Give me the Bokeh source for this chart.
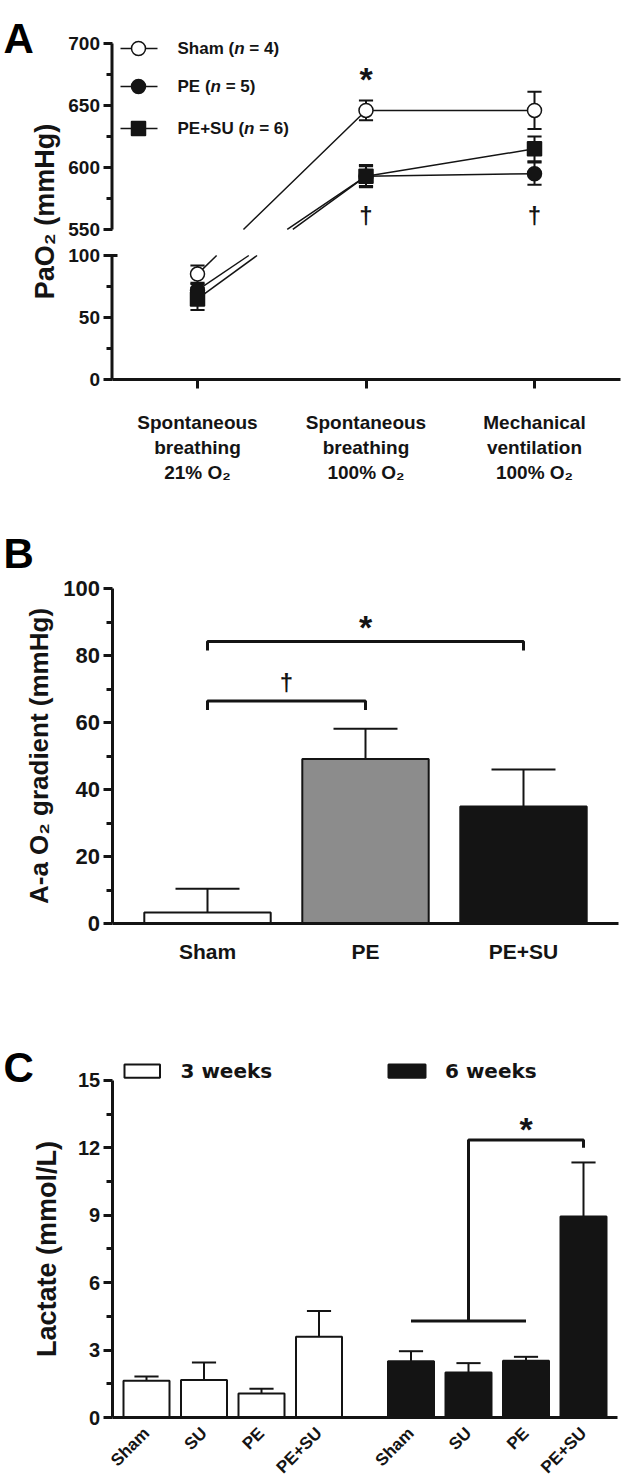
import math
from bokeh.plotting import figure
from bokeh.models import FixedTicker, Range1d
from bokeh.layouts import column
from bokeh.embed import file_html
from bokeh.resources import INLINE
from bokeh.core.properties import value

FONT = "Liberation Sans"
INK = "#141414"

# ---------------- data ----------------
# Panel A : PaO2 (mmHg)
conditions = ["Spontaneous\nbreathing\n21% O\u2082",
              "Spontaneous\nbreathing\n100% O\u2082",
              "Mechanical\nventilation\n100% O\u2082"]
groups_a = ["Sham", "PE", "PE+SU"]
n_a = [4, 5, 6]
sham_pao2 = [85, 646, 646]
sham_err = [7, 8, 15]
pe_pao2 = [72, 593, 595]
pe_err = [5, 8, 9]
pesu_pao2 = [65, 593, 615]
pesu_err = [9, 9, 10]
a_ticks = [0, 50, 100, 550, 600, 650, 700]
a_minor = [25, 75, 575, 625, 675]

# Panel B : A-a O2 gradient (mmHg)
groups_b = ["Sham", "PE", "PE+SU"]
grad_b = [3.3, 49.1, 34.9]
grad_err = [7.1, 9.0, 11.1]
b_ticks = [0, 20, 40, 60, 80, 100]
b_minor = [10, 30, 50, 70, 90]

# Panel C : Lactate (mmol/L)
treat_c = ["Sham", "SU", "PE", "PE+SU"]
weeks_c = ["3 weeks", "6 weeks"]
lact_3w = [1.63, 1.67, 1.07, 3.59]
lact_3w_err = [0.20, 0.78, 0.21, 1.15]
lact_6w = [2.50, 2.00, 2.53, 8.94]
lact_6w_err = [0.45, 0.42, 0.17, 2.41]
c_ticks = [0, 3, 6, 9, 12, 15]
c_minor = [1.5, 4.5, 7.5, 10.5, 13.5]

# --------------- helpers ---------------
W = 622
AW = {' ': 278, '(': 333, ')': 333, '=': 584, '+': 584, 'S': 667, 'h': 611,
      'a': 556, 'm': 889, 'P': 667, 'E': 667, 'U': 722, 'n': 611}


def tw(s, fs):
    return sum(AW.get(c, 556) for c in s) * fs / 1000.0


class Panel:
    """pixel <-> data helper for one panel (page pixels, y downwards)."""

    def __init__(self, top, height, x1_px, ux, y0_px, uy):
        self.top, self.height = top, height
        self.x1_px, self.ux, self.y0_px, self.uy = x1_px, ux, y0_px, uy

    def fx(self, px):
        return 1 + (px - self.x1_px) / self.ux

    def fy(self, py):
        return (self.y0_px - py) / self.uy


def make_fig(P, axis_px, axis_end_px, y_bounds):
    p = figure(width=W, height=P.height, output_backend="svg", toolbar_location=None,
               x_range=Range1d(P.fx(0), P.fx(W)),
               y_range=Range1d(P.fy(P.top + P.height), P.fy(P.top)),
               min_border_left=0, min_border_right=0, min_border_top=0, min_border_bottom=0)
    p.xgrid.visible = False
    p.ygrid.visible = False
    p.outline_line_color = None
    p.background_fill_color = "white"
    p.border_fill_color = "white"
    for ax in p.axis:
        ax.axis_line_width = 3
        ax.axis_line_color = INK
        ax.major_tick_line_width = 3
        ax.major_tick_line_color = INK
        ax.minor_tick_line_width = 3
        ax.minor_tick_line_color = INK
        ax.major_tick_in = 0
        ax.minor_tick_in = 0
        ax.major_tick_out = 9
        ax.minor_tick_out = 6
        ax.major_label_text_font = FONT
        ax.major_label_text_font_style = "bold"
        ax.major_label_text_color = INK
        ax.major_label_standoff = 3
    p.yaxis.fixed_location = P.fx(axis_px)
    p.yaxis.bounds = y_bounds
    p.xaxis.fixed_location = 0
    p.xaxis.bounds = (P.fx(axis_px), P.fx(axis_end_px))
    return p


def no_xticks(p):
    p.xaxis.major_tick_out = 0
    p.xaxis.minor_tick_out = 0
    p.xaxis.major_tick_line_color = None
    p.xaxis.minor_tick_line_color = None


def txt(p, x, y, s, fs, style="bold", font=FONT, align="center", baseline="middle",
        xo=0, yo=0, angle=0.0, color=INK):
    p.text(x=x, y=y, text=s, text_font=value(font), text_font_size=f"{fs}px",
           text_font_style=style, text_color=color, text_align=align,
           text_baseline=baseline, x_offset=xo, y_offset=yo, angle=angle)


def panel_letter(p, P, s, px, baseline_py):
    txt(p, [P.fx(px)], [P.fy(baseline_py)], [s], 42, align="left", baseline="alphabetic",
        color="black")


def y_title(p, P, s, fs, baseline_px, y_mid):
    txt(p, [P.fx(baseline_px)], [y_mid], [s], fs, baseline="alphabetic", angle=math.pi / 2)


# =============== Panel A ===============
BREAK_LO, BREAK_HI, GAP = 100, 550, 21


def brk(v):
    return v if v <= BREAK_LO else v - BREAK_HI + BREAK_LO + GAP


PA = Panel(top=0, height=505, x1_px=197, ux=168.5, y0_px=379, uy=1.24)
pA = make_fig(PA, 111.5, 620, (0, brk(700)))
xa = [1, 2, 3]
pA.xaxis.ticker = FixedTicker(ticks=xa, minor_ticks=[])
pA.xaxis.major_label_overrides = {x: c for x, c in zip(xa, conditions)}
pA.xaxis.major_label_text_font_size = "19px"
pA.xaxis.major_label_standoff = 23
pA.yaxis.ticker = FixedTicker(ticks=[brk(v) for v in a_ticks], minor_ticks=[brk(v) for v in a_minor])
pA.yaxis.major_label_overrides = {brk(v): str(v) for v in a_ticks}
pA.yaxis.major_label_text_font_size = "19px"
pA.yaxis.axis_line_color = None

# broken y-axis rule (with the small cap on top of the lower part)
xs_rule = PA.fx(111.5)
pA.segment(x0=[xs_rule, xs_rule], y0=[0, brk(BREAK_HI)], x1=[xs_rule, xs_rule],
           y1=[BREAK_LO, brk(700)], line_width=3, line_color=INK)
pA.segment(x0=[xs_rule], y0=[BREAK_LO], x1=[PA.fx(117)], y1=[BREAK_LO], line_width=3, line_color=INK)

series_a = [(sham_pao2, sham_err), (pe_pao2, pe_err), (pesu_pao2, pesu_err)]
markers_a = ["circle", "circle", "square"]
fills_a = ["white", INK, INK]
CAP_A = 0.042
for vals, errs in series_a:
    ys = [brk(v) for v in vals]
    y0, y1 = ys[0], ys[1]
    fa = (BREAK_LO - y0) / (y1 - y0)
    fb = (brk(BREAK_HI) - y0) / (y1 - y0)
    pA.line([xa[0], xa[0] + fa * (xa[1] - xa[0])], [y0, BREAK_LO], line_width=1.5, line_color=INK)
    pA.line([xa[0] + fb * (xa[1] - xa[0])] + xa[1:], [brk(BREAK_HI)] + ys[1:],
            line_width=1.5, line_color=INK)
    lo = [brk(v - e) for v, e in zip(vals, errs)]
    hi = [brk(v + e) for v, e in zip(vals, errs)]
    pA.segment(x0=xa, y0=lo, x1=xa, y1=hi, line_width=2, line_color=INK)
    for yy in (lo, hi):
        pA.segment(x0=[x - CAP_A for x in xa], y0=yy, x1=[x + CAP_A for x in xa], y1=yy,
                   line_width=2, line_color=INK)
for (vals, errs), m, f in zip(series_a, markers_a, fills_a):
    pA.scatter(xa, [brk(v) for v in vals], marker=m, size=14, fill_color=f,
               line_color=INK, line_width=1.5)

# legend A
LEG_ROWS_PX = [48, 86, 128]
for g, n, m, f, r in zip(groups_a, n_a, markers_a, fills_a, LEG_ROWS_PX):
    y = PA.fy(r)
    pA.line([PA.fx(120), PA.fx(157)], [y, y], line_width=1.5, line_color=INK)
    pA.scatter([PA.fx(138)], [y], marker=m, size=14, fill_color=f, line_color=INK, line_width=1.5)
    t1 = f"{g} ("
    tx = PA.fx(177)
    txt(pA, [tx], [y], [t1], 17, align="left")
    txt(pA, [tx], [y], ["n"], 17, style="bold italic", align="left", xo=tw(t1, 17))
    txt(pA, [tx], [y], [f"= {n})"], 17, align="left", xo=tw(t1 + "n ", 17))

txt(pA, [2], [PA.fy(70)], ["*"], 34, yo=8)
txt(pA, [2, 3], [PA.fy(215)] * 2, ["\u2020", "\u2020"], 24)
panel_letter(pA, PA, "A", 3, 38)
y_title(pA, PA, "PaO\u2082 (mmHg)", 27, 44, brk(700) / 2)

# =============== Panel B ===============
PB = Panel(top=505, height=465, x1_px=207, ux=158.0, y0_px=923, uy=3.35)
pB = make_fig(PB, 111.5, 618, (0, 100))
xb = [1, 2, 3]
colors_b = ["white", "#8c8c8c", "#141414"]
pB.vbar(x=xb, top=grad_b, width=0.8, fill_color=colors_b, line_color=INK, line_width=2)
hi_b = [v + e for v, e in zip(grad_b, grad_err)]
pB.segment(x0=xb, y0=grad_b, x1=xb, y1=hi_b, line_width=2, line_color=INK)
CAP_B = 0.2025
pB.segment(x0=[x - CAP_B for x in xb], y0=hi_b, x1=[x + CAP_B for x in xb], y1=hi_b,
           line_width=2, line_color=INK)
pB.line([1, 1, 2, 2], [63.7, 66.4, 66.4, 63.7], line_width=3, line_color=INK)
pB.line([1, 1, 3, 3], [81.5, 84.2, 84.2, 81.5], line_width=3, line_color=INK)
txt(pB, [1.5], [71.8], ["\u2020"], 24)
txt(pB, [2], [91], ["*"], 34, yo=8)

pB.xaxis.ticker = FixedTicker(ticks=xb, minor_ticks=[])
pB.xaxis.major_label_overrides = {x: g for x, g in zip(xb, groups_b)}
no_xticks(pB)
pB.xaxis.major_label_text_font_size = "21px"
pB.xaxis.major_label_standoff = 16
pB.yaxis.ticker = FixedTicker(ticks=b_ticks, minor_ticks=b_minor)
pB.yaxis.major_label_text_font_size = "22px"
panel_letter(pB, PB, "B", 3, 553)
y_title(pB, PB, "A-a O\u2082 gradient (mmHg)", 26, 38, 50)

# =============== Panel C ===============
PC = Panel(top=970, height=514, x1_px=146, ux=57.5, y0_px=1417, uy=22.47)
pC = make_fig(PC, 111.7, 617, (0, 15))
x3 = [1, 2, 3, 4]
x6 = [x + 4.6 for x in x3]
CAP_C = 0.21
for xs, vals, errs, col in ((x3, lact_3w, lact_3w_err, "white"), (x6, lact_6w, lact_6w_err, "#141414")):
    pC.vbar(x=xs, top=vals, width=0.8, fill_color=col, line_color=INK, line_width=2)
    hi = [v + e for v, e in zip(vals, errs)]
    pC.segment(x0=xs, y0=vals, x1=xs, y1=hi, line_width=2, line_color=INK)
    pC.segment(x0=[x - CAP_C for x in xs], y0=hi, x1=[x + CAP_C for x in xs], y1=hi,
               line_width=2, line_color=INK)

# significance bracket
pC.line([x6[0], x6[2]], [4.29, 4.29], line_width=3, line_color=INK)
pC.line([x6[1], x6[1], x6[3], x6[3]], [4.29, 12.35, 12.35, 12.0], line_width=3, line_color=INK)
txt(pC, [(x6[1] + x6[3]) / 2], [13.2], ["*"], 34, yo=8)

# legend C
pC.quad(left=[PC.fx(124), PC.fx(388)], right=[PC.fx(159.5), PC.fx(425)],
        bottom=[15.12, 15.12], top=[15.71, 15.71],
        fill_color=["white", "#141414"], line_color=INK, line_width=2)
txt(pC, [PC.fx(180), PC.fx(444.5)], [15.42, 15.42], weeks_c, 20, font="DejaVu Sans", align="left")

pC.xaxis.ticker = FixedTicker(ticks=x3 + x6, minor_ticks=[])
pC.xaxis.major_label_overrides = {x: t for x, t in zip(x3 + x6, treat_c + treat_c)}
no_xticks(pC)
pC.xaxis.major_label_orientation = math.pi / 4
pC.xaxis.major_label_text_font_size = "17px"
pC.xaxis.major_label_standoff = 13
pC.yaxis.ticker = FixedTicker(ticks=c_ticks, minor_ticks=c_minor)
pC.yaxis.major_label_text_font_size = "20px"
panel_letter(pC, PC, "C", 3, 1067)
y_title(pC, PC, "Lactate (mmol/L)", 27, 46, 7.5)

layout = column(pA, pB, pC, spacing=0)
open("out.html", "w").write(file_html(layout, INLINE))
